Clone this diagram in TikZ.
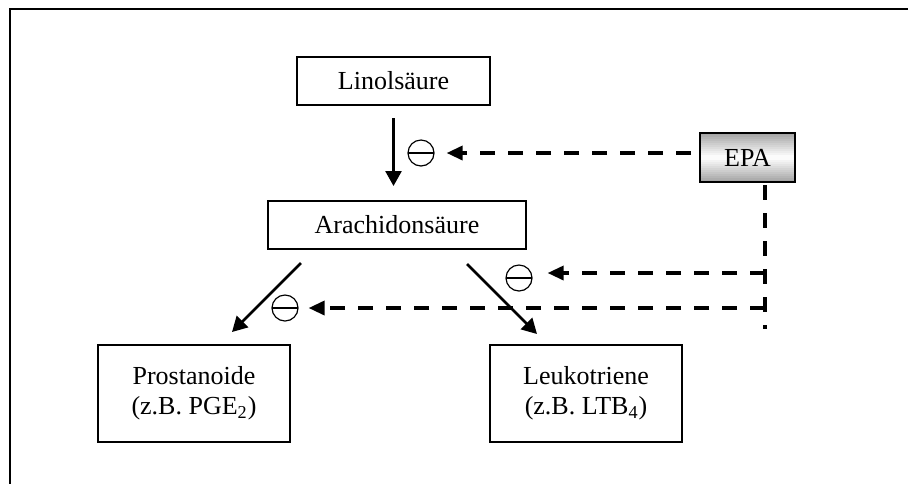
\documentclass[tikz,border=0pt]{standalone}
\usepackage{fontspec}
\setmainfont{Liberation Serif}
\usetikzlibrary{arrows.meta,calc}
\tikzset{every picture/.style={line width=1pt}}
\tikzset{
  box/.style={draw, line width=1pt, align=center, inner sep=0pt},
  hemm/.style={draw, circle, line width=0.6pt, minimum size=13pt, inner sep=0pt,
    path picture={\draw[line width=0.6pt] (path picture bounding box.west) -- (path picture bounding box.east);}},
  verlauf/.style={path picture={
    \foreach \i in {0,...,23} {
      \pgfmathsetmacro\t{abs(\i-11.5)/11.5*70}
      \pgfmathsetmacro\von{\i/24}
      \pgfmathsetmacro\bis{(\i+1.2)/24}
      \fill[gray!\t] ($(path picture bounding box.north west)!\von!(path picture bounding box.south west)$)
        rectangle ($(path picture bounding box.north east)!\bis!(path picture bounding box.south east)$);
    }}},
  pfeil/.style={-{Triangle[length=7.5pt,width=8pt]}, line width=1.3pt},
  strich/.style={line width=1.7pt, dash pattern=on 7.5pt off 6.5pt},
  hemmpfeil/.style={strich, -{Triangle[length=8pt,width=7pt]}},
}

\begin{document}
\begin{tikzpicture}[x=0.5pt, y=-0.5pt, font=\fontsize{13}{15}\selectfont]
    \useasboundingbox (0,0) rectangle (908,484);
    % Rahmen
    \draw (908,9) -- (10,9) -- (10,484);

    % Kästen
    \node[box, minimum width=96.5pt, minimum height=24pt] (lin) at (393.5,81) {Linolsäure};
    \node[box, minimum width=129pt, minimum height=24pt] (ara) at (397,225) {Arachidonsäure};
    \node[box, minimum width=96pt, minimum height=48.5pt] (pro) at (194,393.5) {Prostanoide\\(z.B. PGE\textsubscript{2})};
    \node[box, minimum width=96pt, minimum height=48.5pt] (leu) at (586,393.5) {Leukotriene\\(z.B. LTB\textsubscript{4})};
    \node[box, verlauf, minimum width=47.5pt, minimum height=24.5pt] (epa) at (747.5,157.5) {EPA};

    % Hemmung
    \node[hemm] (h1) at (421,153) {};
    \node[hemm] (h2) at (519,278) {};
    \node[hemm] (h3) at (285,308) {};

    % Umwandlung
    \draw[pfeil] ($(lin.south)+(0,12)$) -- ($(lin.south |- ara.north)+(0,-14)$);
    \draw[pfeil] ($(ara.south)+(-96,13)$) -- ($(pro.north)+(38,-12)$);
    \draw[pfeil] ($(ara.south)+(70,14)$) -- ($(leu.north)+(-49,-10)$);

    % EPA hemmt
    \coordinate (ecke) at ($(epa.south)+(17.5,2)$);
    \coordinate (ende) at ($(ecke)+(0,144)$);
    \coordinate (a2) at ($(h2.east)+(0,-5)$);
    \draw[strich] (ecke) -- (ende);
    \draw[hemmpfeil, shorten <=4pt, shorten >=6pt] (epa.west |- h1) -- (h1.east);
    \draw[hemmpfeil, shorten >=7.5pt] (ecke |- a2) -- (a2);
    \draw[hemmpfeil, shorten >=5pt] (ecke |- h3) -- (h3.east);
\end{tikzpicture}
\end{document}
